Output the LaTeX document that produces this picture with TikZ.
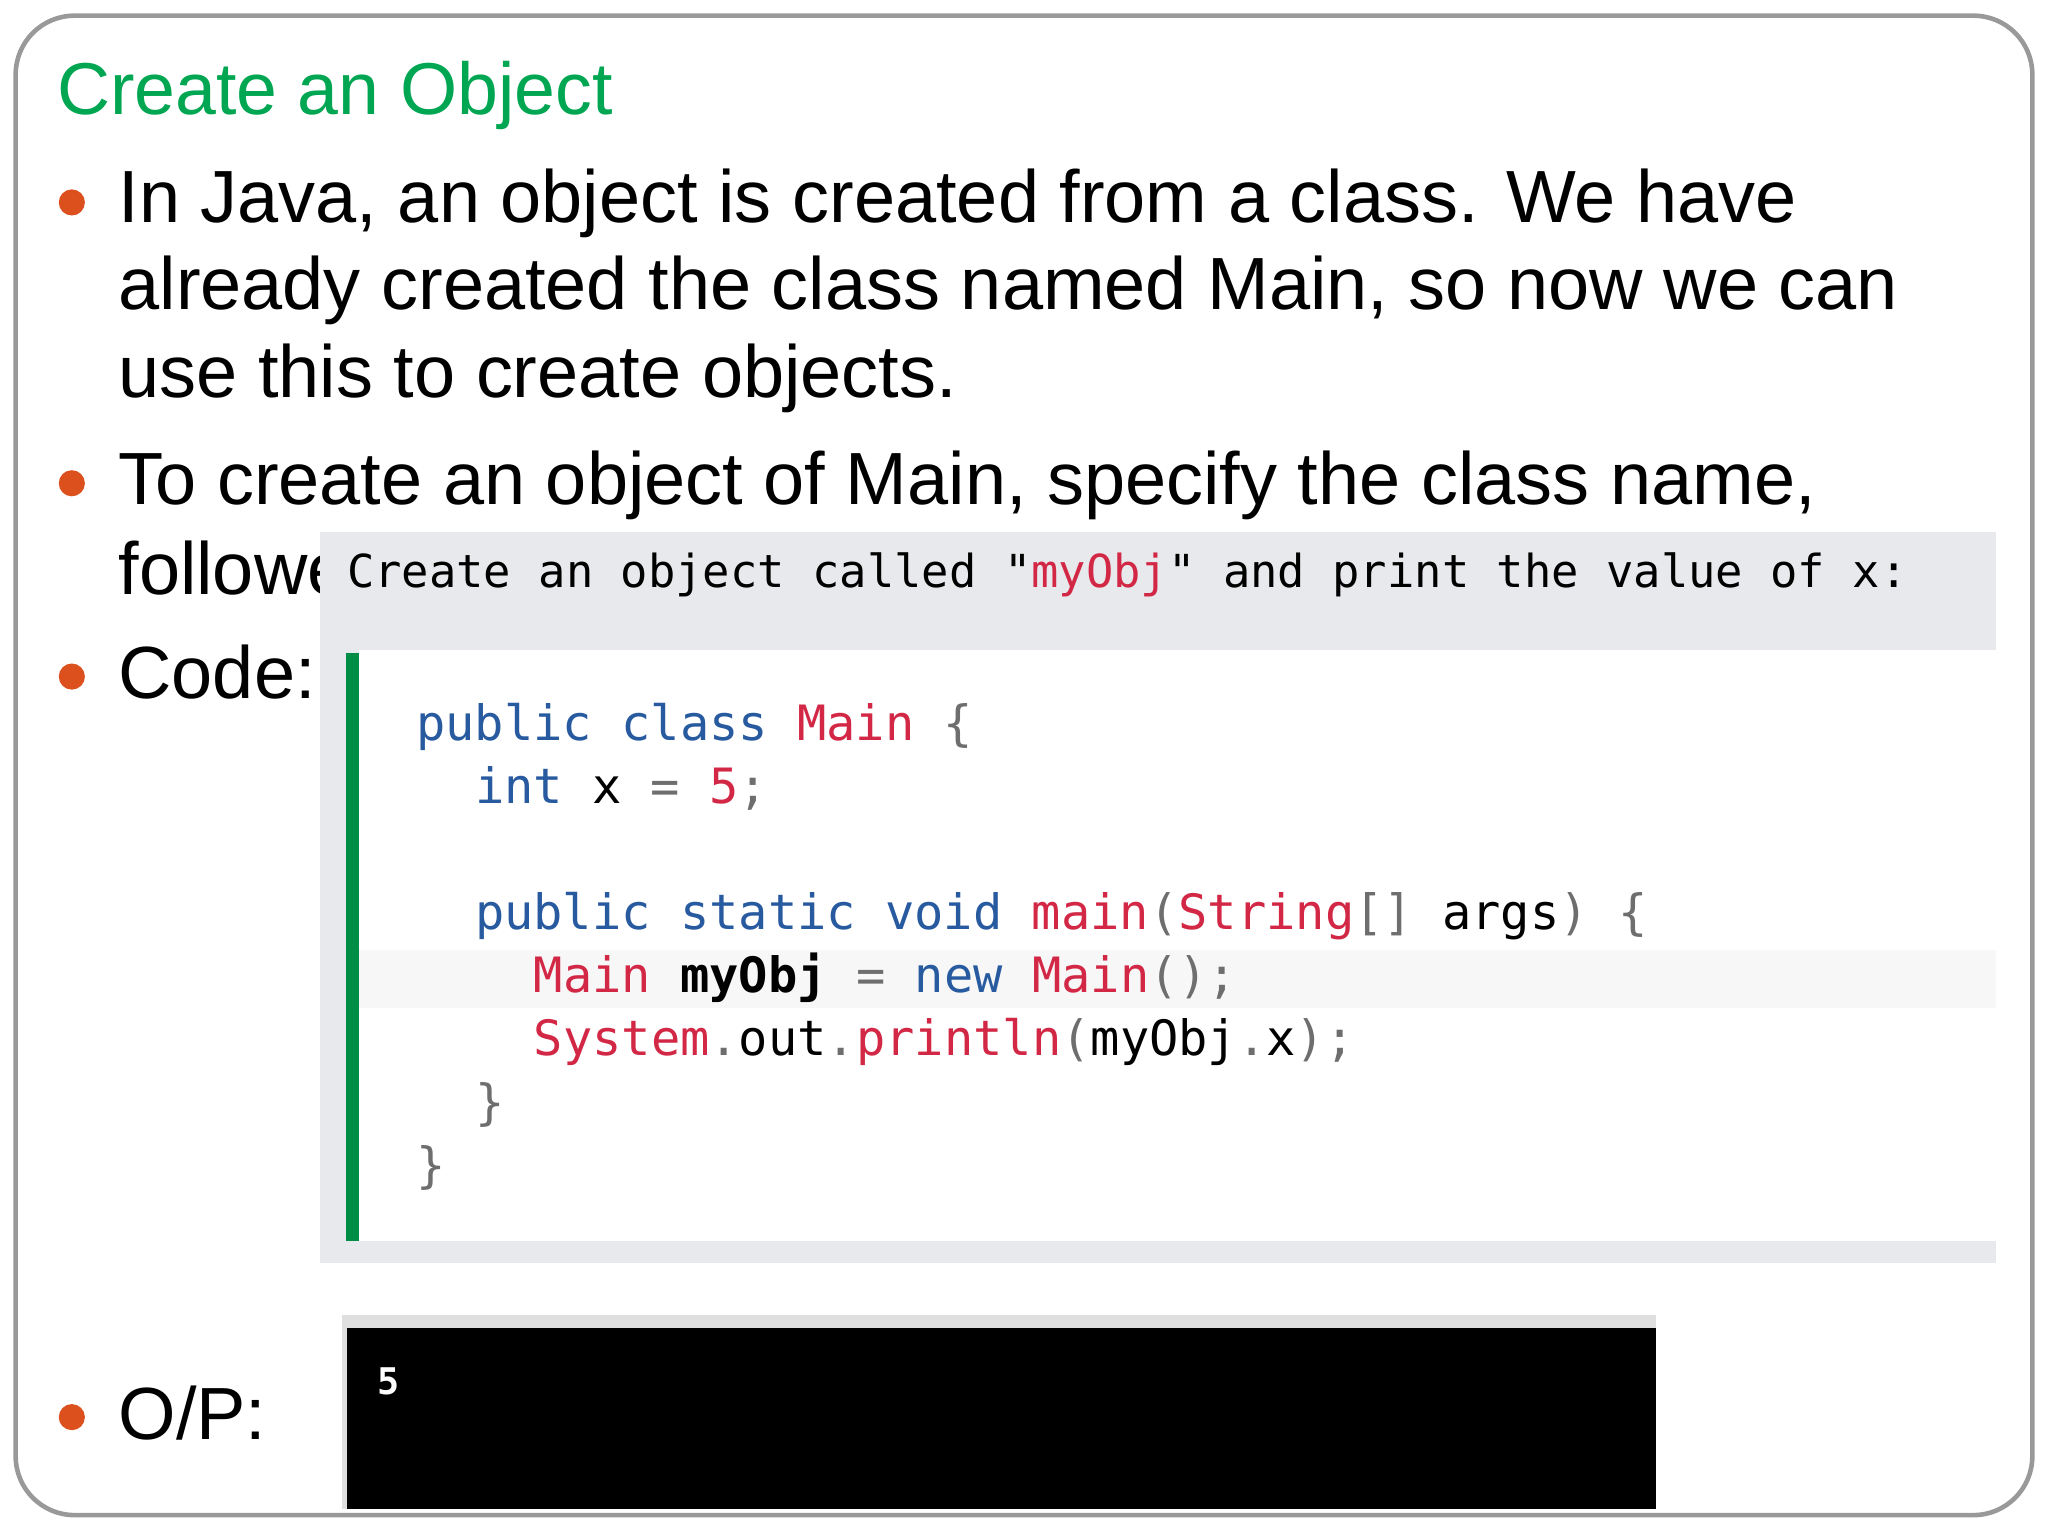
\documentclass[tikz,border=0pt]{standalone}
\usepackage{fontspec}
\setmainfont{Liberation Sans}
\newfontfamily\codefont{DejaVu Sans Mono}
\definecolor{ttlgreen}{RGB}{0,166,81}
\definecolor{bulorange}{RGB}{220,80,30}
\definecolor{panelgray}{RGB}{232,233,236}
\definecolor{kwblue}{RGB}{40,90,160}
\definecolor{clsred}{RGB}{210,40,70}
\definecolor{opgray}{RGB}{110,110,110}
\tikzset{
  body/.style={anchor=base west,inner sep=0,font=\fontsize{16.1}{20}\selectfont},
  bul/.style={circle,fill=bulorange,inner sep=0,minimum size=0.2cm},
  code/.style={anchor=base west,inner sep=0,font=\codefont\fontsize{10.6}{12}\selectfont},
}
\begin{document}
\begin{tikzpicture}[x=0.01cm,y=-0.01cm]
\useasboundingbox (0,0) rectangle (1568,1176);
\draw[gray!80,line width=1pt,rounded corners=0.45cm] (12,12) rectangle (1556,1160);
\node[body,text=ttlgreen,font=\fontsize{16}{20}\selectfont] (title) at (43,88) {Create an Object};
\node[bul] (b1) at (55,155) {};
\node[body] (l1) at (90,170) {In Java, an object is created from a class. We have};
\node[body] (l2) at (90,237) {already created the class named Main, so now we can};
\node[body] (l3) at (90,304) {use this to create objects.};
\node[bul] (b2) at (55,370) {};
\node[body] (l4) at (90,386) {To create an object of Main, specify the class name,};
\begin{scope}
\clip (80,400) rectangle (245,480);
\node[body] (l5) at (90,455) {followe};
\end{scope}
\node[bul] (b3) at (55,518) {};
\node[body] (l6) at (90,535) {Code:};
\node[bul] (b4) at (55,1085) {};
\node[body] (l7) at (90,1102) {O/P:};
% code panel
\fill[panelgray] (245,407) rectangle (1528,967);
\fill[white] (275,498) rectangle (1528,950);
\fill[gray!6] (275,727) rectangle (1528,772);
\fill[ttlgreen!85!black] (265,500) rectangle (275,950);
\node[code,font=\codefont\fontsize{9.9}{12}\selectfont] (hdr) at (265,450) {Create an object called "\textcolor{clsred}{myObj}" and print the value of x:};
\node[code] (c1) at (318,567) {\textcolor{kwblue}{public class} \textcolor{clsred}{Main} \textcolor{opgray}{\{}};
\node[code] (c2) at (363,615) {\textcolor{kwblue}{int} x \textcolor{opgray}{=} \textcolor{clsred}{5}\textcolor{opgray}{;}};
\node[code] (c3) at (363,712) {\textcolor{kwblue}{public static void} \textcolor{clsred}{main}\textcolor{opgray}{(}\textcolor{clsred}{String}\textcolor{opgray}{[]} args\textcolor{opgray}{) \{}};
\node[code] (c4) at (408,760) {\textcolor{clsred}{Main} \textbf{myObj} \textcolor{opgray}{=} \textcolor{kwblue}{new} \textcolor{clsred}{Main}\textcolor{opgray}{();}};
\node[code] (c5) at (408,808) {\textcolor{clsred}{System}\textcolor{opgray}{.}out\textcolor{opgray}{.}\textcolor{clsred}{println}\textcolor{opgray}{(}myObj\textcolor{opgray}{.}x\textcolor{opgray}{);}};
\node[code,text=opgray] (c6) at (363,857) {\}};
\node[code,text=opgray] (c7) at (318,905) {\}};
% output
\fill[gray!25] (262,1007) rectangle (1268,1155);
\fill[black] (266,1017) rectangle (1268,1155);
\node[code,text=white,font=\codefont\bfseries\fontsize{8}{10}\selectfont] (o1) at (288,1068) {5};
\end{tikzpicture}
\end{document}
